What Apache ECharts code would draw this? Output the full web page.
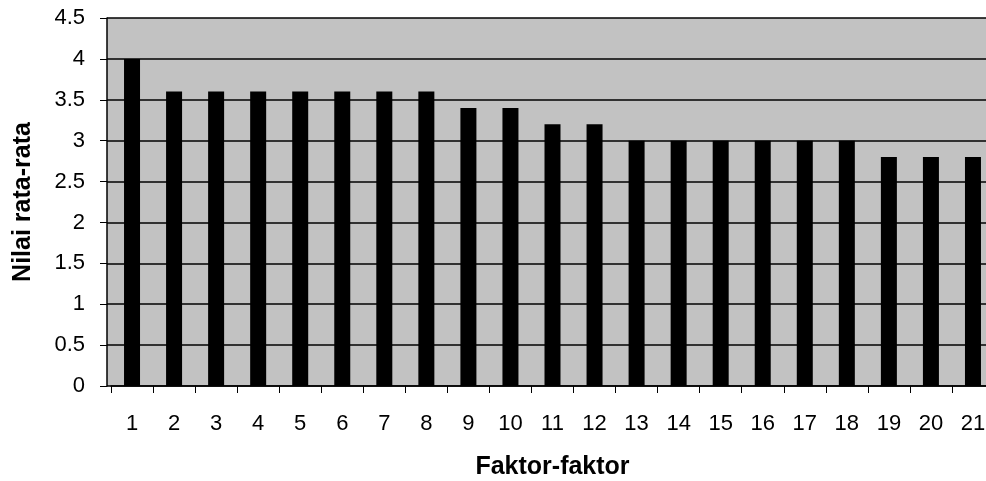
<!DOCTYPE html>
<html>
<head>
<meta charset="utf-8">
<script src="https://cdn.jsdelivr.net/npm/echarts@6/dist/echarts.min.js"></script>
<style>
html,body{margin:0;padding:0;background:#fff;}
#chart{width:986px;height:481px;}
</style>
</head>
<body>
<div id="chart"></div>
<script>
var categories = ['1','2','3','4','5','6','7','8','9','10','11','12','13','14','15','16','17','18','19','20','21'];
var values = [4.0, 3.6, 3.6, 3.6, 3.6, 3.6, 3.6, 3.6, 3.4, 3.4, 3.2, 3.2, 3.0, 3.0, 3.0, 3.0, 3.0, 3.0, 2.8, 2.8, 2.8];
var yTicks = { min: 0, max: 4.5, interval: 0.5 };
var xName = 'Faktor-faktor';
var yName = 'Nilai rata-rata';

var chart = echarts.init(document.getElementById('chart'), null, { renderer: 'canvas' });
var font = 'Liberation Sans';
chart.setOption({
  animation: false,
  backgroundColor: '#ffffff',
  grid: [
    { left: 107, top: 18, right: 0, bottom: 95, show: true, backgroundColor: '#c2c2c2', borderWidth: 0, outerBoundsMode: 'none' },
    { left: 111, top: 18, width: 883, bottom: 95, show: false, outerBoundsMode: 'none' }
  ],
  xAxis: [
    { gridIndex: 0, type: 'value', min: 0, max: 1, show: false },
    {
      gridIndex: 1, type: 'category', data: categories,
      name: xName, nameLocation: 'middle', nameGap: 69, nameMoveOverlap: false,
      nameTextStyle: { fontFamily: font, fontSize: 25, fontWeight: 'bold', color: '#000' },
      axisLine: { show: true, lineStyle: { color: '#000', width: 1.5 } },
      axisTick: { show: true, length: 7, lineStyle: { color: '#000', width: 1 } },
      axisLabel: { show: true, interval: 0, fontFamily: font, fontSize: 22, color: '#000', margin: 27 },
      splitLine: { show: false }
    }
  ],
  yAxis: [
    {
      gridIndex: 0, type: 'value', min: yTicks.min, max: yTicks.max, interval: yTicks.interval,
      name: yName, nameLocation: 'middle', nameGap: 71, nameRotate: 90, nameMoveOverlap: false,
      nameTextStyle: { fontFamily: font, fontSize: 25, fontWeight: 'bold', color: '#000' },
      axisLine: { show: true, lineStyle: { color: '#000', width: 1.5 } },
      axisTick: { show: true, length: 7, lineStyle: { color: '#000', width: 1 } },
      axisLabel: { show: true, fontFamily: font, fontSize: 22, color: '#000', margin: 22 },
      splitLine: { show: true, lineStyle: { color: '#000', width: 1.5 } }
    },
    { gridIndex: 1, type: 'value', min: yTicks.min, max: yTicks.max, show: false }
  ],
  series: [
    {
      type: 'bar', xAxisIndex: 1, yAxisIndex: 1,
      data: values, barWidth: 16,
      itemStyle: { color: '#000' }
    }
  ]
});
</script>
</body>
</html>
